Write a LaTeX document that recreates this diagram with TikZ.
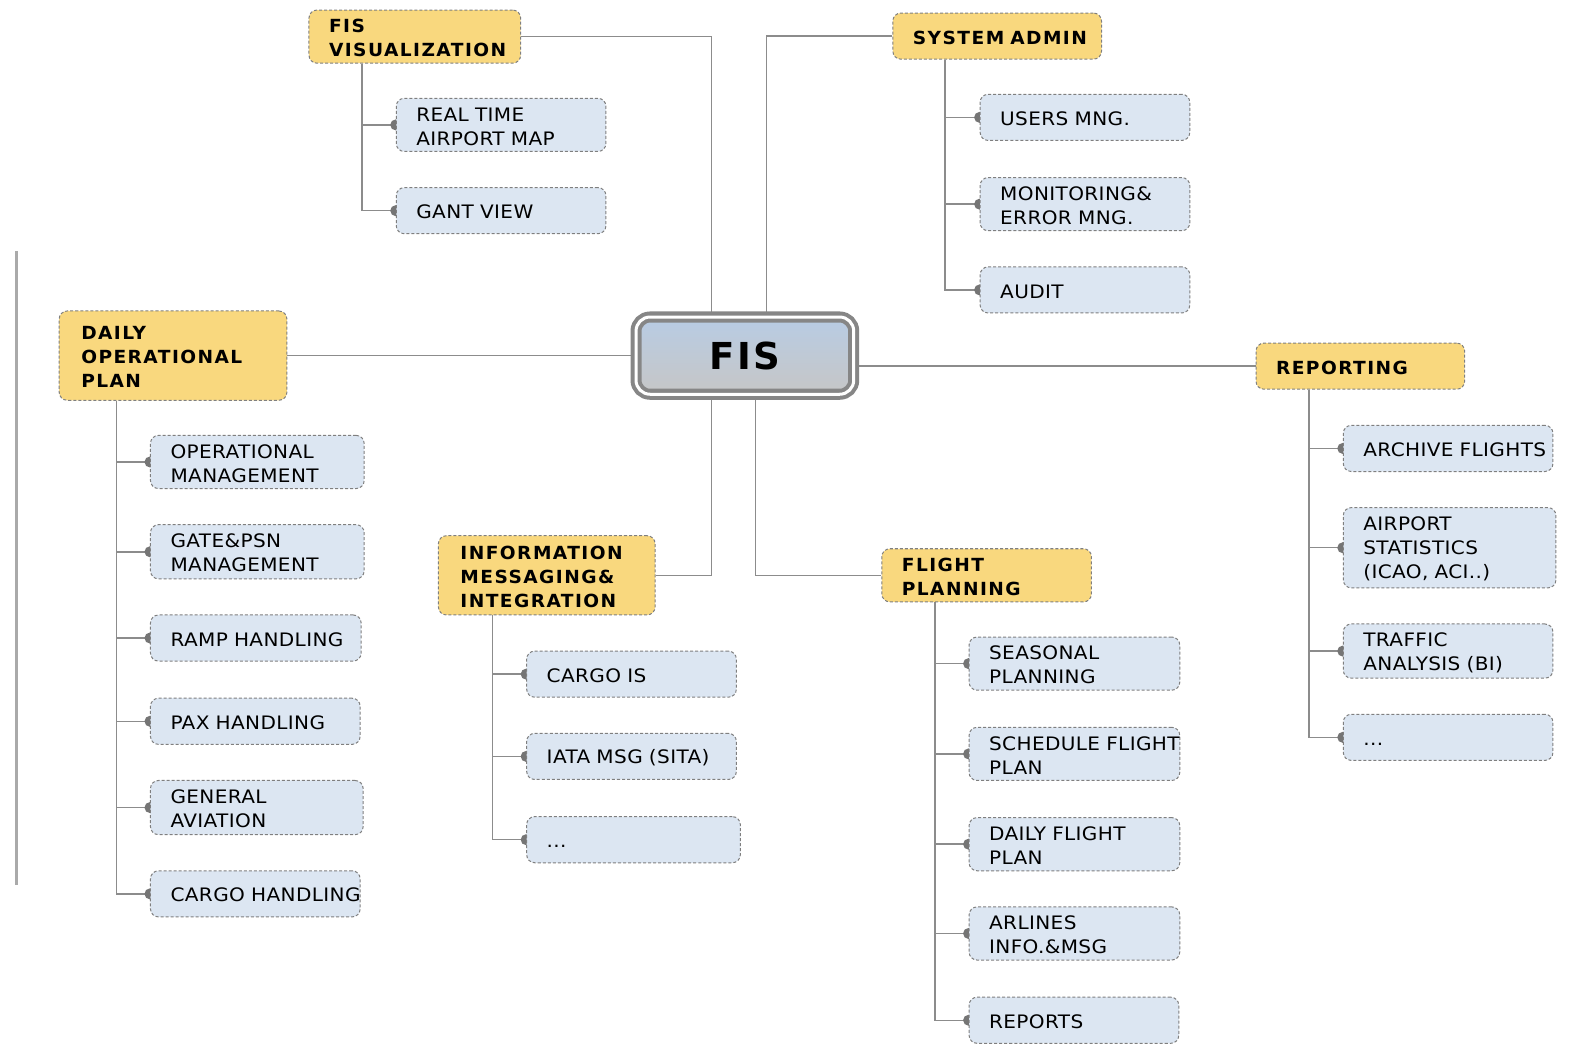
\documentclass[tikz,border=0pt]{standalone}
\usepackage{fontspec}
\setmainfont{DejaVu Sans}
\newfontfamily\nfont[LetterSpace=2,FakeStretch=1.08]{DejaVu Sans}
\newfontfamily\hfont[LetterSpace=8,FakeStretch=1.03]{DejaVu Sans}
\newfontfamily\ffont[LetterSpace=6]{DejaVu Sans}
\usetikzlibrary{backgrounds}
\definecolor{hyel}{HTML}{F9D87E}
\definecolor{cblue}{HTML}{DCE6F2}
\definecolor{bord}{HTML}{7F7F7F}
\definecolor{conn}{HTML}{8C8C8C}
\definecolor{dotc}{HTML}{757575}
\definecolor{fistop}{HTML}{B8CCE4}
\definecolor{fisbot}{HTML}{C6C6C6}
\definecolor{sidel}{HTML}{AAAAAA}
\tikzset{
  basebox/.style={draw=bord, dashed, dash pattern=on 3pt off 2pt, line width=1pt,
    rounded corners=8pt, align=left, inner xsep=20pt, inner ysep=0pt, text=black,
    execute at begin node={\hyphenpenalty=10000\exhyphenpenalty=10000\rule{0pt}{16.5pt}}},
  cbox/.style={basebox, fill=cblue, font=\nfont\fontsize{18.5}{24}\selectfont},
  hbox/.style={basebox, fill=hyel, font=\hfont\bfseries\fontsize{18}{24}\selectfont},
  link/.style={draw=conn, line width=1.5pt},
  knob/.style={fill=dotc},
}
\begin{document}
\begin{tikzpicture}[x=1pt,y=-1pt]
\useasboundingbox (0,0) rectangle (1568,1046);
% side line
\draw[sidel, line width=3pt] (16,250) -- (16,882);

% central node
\node[draw=gray!95, line width=4pt, double=white, double distance=3pt,
  rounded corners=14pt, top color=fistop, bottom color=fisbot,
  minimum width=217pt, minimum height=77pt, inner sep=0pt,
  font=\ffont\bfseries\fontsize{37}{40}\selectfont] (fis) at (742.5,354.5) {FIS};

% headers
\node[hbox, minimum width=211pt, minimum height=53pt, text width=171pt] (vis) at (413.5,36.5) {FIS\\VISUALIZATION};
\node[hbox, minimum width=208pt, minimum height=46pt, text width=168pt] (sys) at (994,36) {SYSTEM~ADMIN};
\node[hbox, minimum width=227pt, minimum height=89pt, text width=183pt, inner xsep=22pt] (day) at (172.5,354.5) {DAILY\\OPERATIONAL\\PLAN};
\node[hbox, minimum width=208pt, minimum height=46pt, text width=168pt] (rep) at (1356,365) {REPORTING};
\node[hbox, minimum width=216pt, minimum height=79pt, text width=172pt, inner xsep=22pt] (inf) at (545,573.5) {INFORMATION\\MESSAGING\&\\INTEGRATION};
\node[hbox, minimum width=209pt, minimum height=53pt, text width=169pt] (fpl) at (983.5,573.5) {FLIGHT\\PLANNING};

% FIS visualization children
\node[cbox, text width=169pt, minimum height=53pt] (rt) at (499.5,124.5) {REAL~TIME\\AIRPORT~MAP};
\node[cbox, text width=169pt, minimum height=46pt] (gv) at (499.5,210) {GANT~VIEW};
% system admin children
\node[cbox, text width=169pt, minimum height=46pt] (um) at (1081.5,117) {USERS~MNG.};
\node[cbox, text width=169pt, minimum height=53pt] (me) at (1081.5,203.5) {MONITORING\&\\ERROR~MNG.};
\node[cbox, text width=169pt, minimum height=46pt] (au) at (1081.5,289) {AUDIT};
% daily children
\node[cbox, text width=173pt, minimum height=53pt] (om) at (256.5,460.5) {OPERATIONAL\\MANAGEMENT};
\node[cbox, text width=173pt, minimum height=54pt] (gp) at (256.5,550) {GATE\&PSN\\MANAGEMENT};
\node[cbox, text width=170pt, minimum height=46pt] (rh) at (255,636) {RAMP~HANDLING};
\node[cbox, text width=169pt, minimum height=46pt] (ph) at (254.5,719) {PAX~HANDLING};
\node[cbox, text width=172pt, minimum height=54pt] (ga) at (256,805) {GENERAL\\AVIATION};
\node[cbox, text width=169pt, minimum height=46pt] (ch) at (254.5,891) {CARGO~HANDLING};
% information children
\node[cbox, text width=169pt, minimum height=46pt] (ci) at (629.5,672) {CARGO~IS};
\node[cbox, text width=169pt, minimum height=46pt] (ia) at (629.5,754) {IATA~MSG~(SITA)};
\node[cbox, text width=173pt, minimum height=46pt] (id) at (631.5,837) {...};
% flight planning children
\node[cbox, text width=170pt, minimum height=53pt] (sp) at (1071,661.5) {SEASONAL\\PLANNING};
\node[cbox, text width=170pt, minimum height=53pt] (sf) at (1071,751.5) {SCHEDULE~FLIGHT\\PLAN};
\node[cbox, text width=170pt, minimum height=53pt] (df) at (1071,841.5) {DAILY~FLIGHT\\PLAN};
\node[cbox, text width=170pt, minimum height=53pt] (ai) at (1071,930.5) {ARLINES\\INFO.\&MSG};
\node[cbox, text width=169pt, minimum height=46pt] (rs) at (1070.5,1017) {REPORTS};
% reporting children
\node[cbox, text width=169pt, minimum height=46pt] (af) at (1443.5,447) {ARCHIVE~FLIGHTS};
\node[cbox, text width=172pt, minimum height=80pt] (st) at (1445,546) {AIRPORT\\STATISTICS\\(ICAO,~ACI..)};
\node[cbox, text width=169pt, minimum height=54pt] (ta) at (1443.5,649) {TRAFFIC\\ANALYSIS~(BI)};
\node[cbox, text width=169pt, minimum height=46pt] (rd) at (1443.5,735) {...};

% trunk x positions
\coordinate (xa) at (709,0);
\coordinate (xb) at (764,0);
\coordinate (xc) at (753,0);
\coordinate (tv) at (361,0);
\coordinate (ts) at (942,0);
\coordinate (td) at (116,0);
\coordinate (ti) at (491,0);
\coordinate (tf) at (932,0);
\coordinate (tr) at (1305,0);

\begin{pgfonlayer}{background}
% main connectors
\draw[link] (vis.east) -| (fis.north -| xa);
\draw[link] (sys.west) -| (fis.north -| xb);
\draw[link] (day.east) -- (day.east -| fis.west);
\draw[link] (rep.west) -- (rep.west -| fis.east);
\draw[link] (inf.east) -| (fis.south -| xa);
\draw[link] (fpl.west) -| (fis.south -| xc);
% sub trunks
\foreach \c in {rt,gv} {\draw[link] (vis.south -| tv) |- (\c.west); \fill[knob] (\c.west) circle (5.5pt);}
\foreach \c in {um,me,au} {\draw[link] (sys.south -| ts) |- (\c.west); \fill[knob] (\c.west) circle (5.5pt);}
\foreach \c in {om,gp,rh,ph,ga,ch} {\draw[link] (day.south -| td) |- (\c.west); \fill[knob] (\c.west) circle (5.5pt);}
\foreach \c in {ci,ia,id} {\draw[link] (inf.south -| ti) |- (\c.west); \fill[knob] (\c.west) circle (5.5pt);}
\foreach \c in {sp,sf,df,ai,rs} {\draw[link] (fpl.south -| tf) |- (\c.west); \fill[knob] (\c.west) circle (5.5pt);}
\foreach \c in {af,st,ta,rd} {\draw[link] (rep.south -| tr) |- (\c.west); \fill[knob] (\c.west) circle (5.5pt);}
\end{pgfonlayer}
\end{tikzpicture}
\end{document}
